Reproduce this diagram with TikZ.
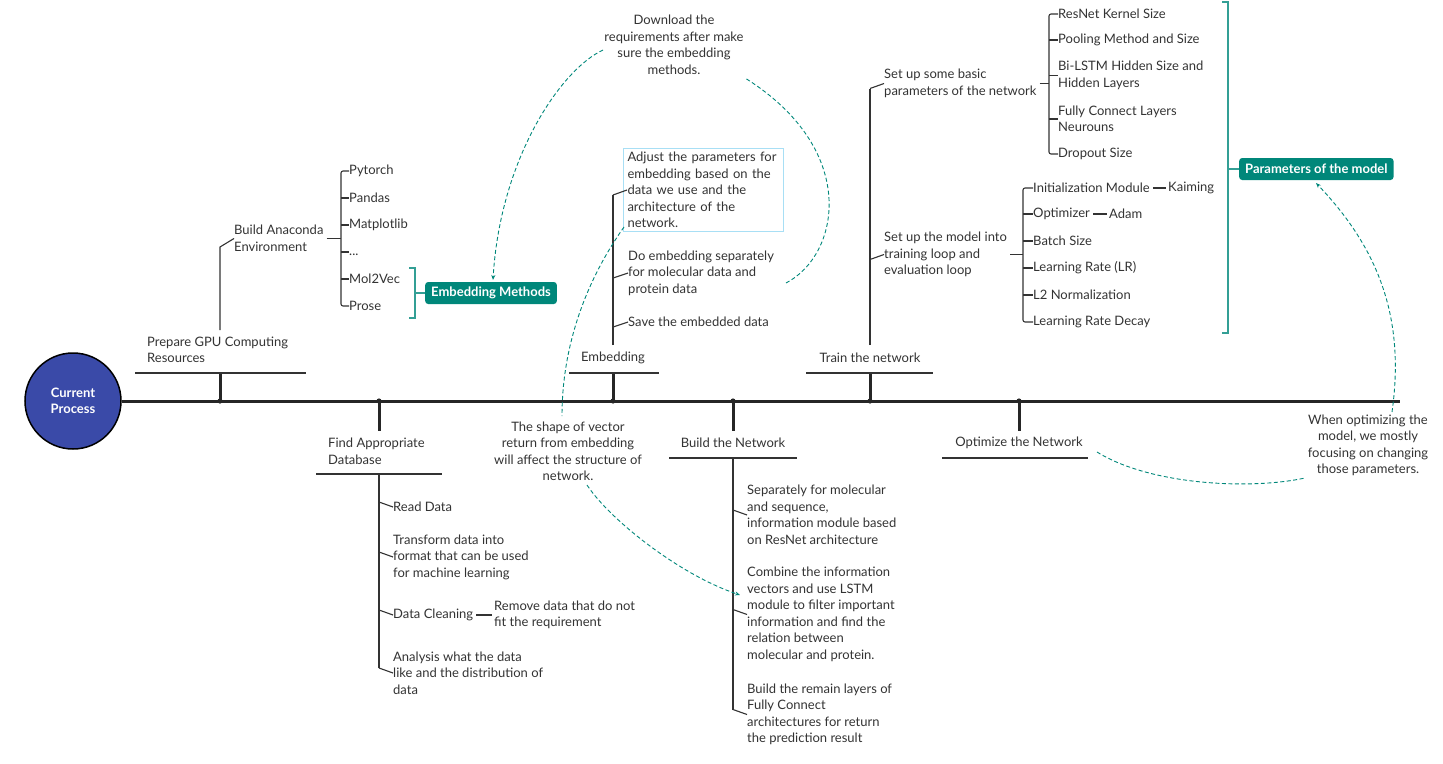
\documentclass[tikz,border=0pt]{standalone}
\usepackage{fontspec}
\setmainfont{Lato}
\usetikzlibrary{arrows.meta}
\definecolor{txtc}{HTML}{333333}
\definecolor{linec}{HTML}{333333}
\definecolor{tealc}{HTML}{00877A}
\definecolor{bluec}{HTML}{3A4AA8}
\definecolor{lblue}{HTML}{A8DFF5}
\tikzset{
  t/.style={font=\fontsize{13}{16.5}\selectfont, text=txtc, align=left, anchor=west, inner sep=0pt},
  tc/.style={t, align=center, anchor=center},
  mainln/.style={draw=black!85, line width=3pt},
  spine/.style={draw=black!85, line width=3pt},
  uline/.style={draw=linec, line width=1.8pt},
  brln/.style={draw=linec, line width=1.1pt},
  tbr/.style={draw=tealc!80, line width=1.4pt},
  note/.style={draw=tealc, line width=0.9pt, dash pattern=on 4pt off 2.5pt},
  arr/.style={-{Stealth[length=5pt,width=4pt]}},
  tagbox/.style={fill=tealc, rounded corners=3pt, text=white, font=\bfseries\fontsize{13}{15}\selectfont, minimum height=22pt, inner xsep=6pt, anchor=west}
}
\begin{document}
\begin{tikzpicture}[x=1pt,y=-1pt]
\useasboundingbox (0,0) rectangle (1443,763);

% central node and main line
\node[circle, minimum size=96pt, fill=bluec, draw=black, line width=1.5pt, text=white,
      font=\bfseries\fontsize{13}{16}\selectfont, align=center, inner sep=0pt] (cur) at (73,401) {Current\\Process};
\coordinate (mend) at (1400,401);
\draw[mainln] (cur.east) -- (mend);

% dots on main line
\coordinate (d1) at (220,401);
\coordinate (d2) at (379,401);
\coordinate (d3) at (613,401);
\coordinate (d4) at (733,401);
\coordinate (d5) at (870,401);
\coordinate (d6) at (1019,401);

% ---------- Prepare GPU Computing Resources ----------
\coordinate (u1) at (220,373);
\draw[spine] (d1) -- (u1);
\draw[uline] (135,373) -- (306,373);
\node[t] (gpu) at (147,350) {Prepare GPU Computing\\Resources};
\node[t] (anac) at (234,238.5) {Build Anaconda\\Environment};
\coordinate (s1top) at (220,330);
\coordinate (s1bend) at (220,247);
\draw[brln] (s1top) -- (s1bend) -- (anac.west);

\coordinate (b1) at (341,0);
\node[t] (pyt) at (349,171) {Pytorch};
\node[t] (pan) at (349,198) {Pandas};
\node[t] (mat) at (349,225) {Matplotlib};
\node[t] (dots) at (349,252) {\strut...};
\node[t] (mol) at (349,279) {Mol2Vec};
\node[t] (prose) at (349,306) {Prose};
\draw[brln, rounded corners=2pt] (pyt.west) -- (pyt.west -| b1) -- (prose.west -| b1) -- (prose.west);
\foreach \n in {pan,mat,dots,mol} \draw[brln] (\n.west -| b1) -- (\n.west);
\draw[brln] ([xshift=3pt]anac.east) -- (anac.east -| b1);

\draw[tbr] (409,268) -- (415,268) -- (415,318) -- (409,318);
\node[tagbox] (emb) at (425,293) {Embedding Methods};
\coordinate (tb1m) at (415,293);
\draw[tbr] (tb1m) -- (emb.west);

% ---------- Find Appropriate Database ----------
\coordinate (u2) at (379,431);
\draw[spine] (d2) -- (u2);
\node[t] (fdb) at (328,451.5) {Find Appropriate\\Database};
\draw[uline] (316,474) -- (442,474);
\coordinate (s2a) at (379,474);
\coordinate (s2b) at (379,668);
\draw[brln] (s2a) -- (s2b);
\node[t] (rd) at (393,507) {Read Data};
\node[t] (tf) at (393,557) {Transform data into\\format that can be used\\for machine learning};
\node[t] (dc) at (393,615) {Data Cleaning};
\node[t] (rm) at (494,615) {Remove data that do not\\fit the requirement};
\node[t] (an) at (393,673) {Analysis what the data\\like and the distribution of\\data};
\foreach \n in {rd,tf,dc,an} \draw[brln] (\n.west) -- ++(-14,-5);
\draw[brln] ([xshift=3pt]dc.east) -- ([xshift=-2pt]rm.west);

% ---------- Embedding ----------
\coordinate (u3) at (613,373);
\draw[spine] (d3) -- (u3);
\draw[uline] (569,373) -- (659,373);
\node[tc] (embt) at (613,358) {Embedding};
\coordinate (s3a) at (613,345);
\coordinate (s3b) at (613,195);
\draw[brln] (s3a) -- (s3b);
\node[t, draw=lblue, line width=1pt, inner sep=4pt, text width=152pt] (adj) at (623,190)
  {Adjust the parameters for\\embedding based on the\\data we use and the\\architecture of the\\network.};
\draw[brln] ([xshift=4pt]adj.west) -- ++(-14,5);
\node[t] (de) at (628,273) {Do embedding separately\\for molecular data and\\protein data};
\node[t] (sv) at (628,322) {Save the embedded data};
\foreach \n in {de,sv} \draw[brln] (\n.west) -- ++(-15,5);

% ---------- Build the Network ----------
\coordinate (u4) at (733,431);
\draw[spine] (d4) -- (u4);
\node[tc] (bn) at (733,443) {Build the Network};
\draw[uline] (669,458) -- (797,458);
\coordinate (s4a) at (733,458);
\coordinate (s4b) at (733,709.5);
\draw[brln] (s4a) -- (s4b);
\node[t] (sp) at (747,515) {Separately for molecular\\and sequence,\\information module based\\on ResNet architecture};
\node[t] (cb) at (747,614.5) {Combine the information\\vectors and use LSTM\\module to filter important\\information and find the\\relation between\\molecular and protein.};
\node[t] (brl) at (747,714.5) {Build the remain layers of\\Fully Connect\\architectures for return\\the prediction result};
\foreach \n in {sp,cb,brl} \draw[brln] (\n.west) -- ++(-14,-5);

% ---------- Train the network ----------
\coordinate (u5) at (870,373);
\draw[spine] (d5) -- (u5);
\draw[uline] (806,373) -- (933,373);
\node[tc] (tn) at (870,358) {Train the network};
\coordinate (s5a) at (870,345);
\coordinate (s5b) at (870,88.5);
\draw[brln] (s5a) -- (s5b);
\node[t] (bp) at (884,83.5) {Set up some basic\\parameters of the network};
\node[t] (sm) at (884,254.5) {Set up the model into\\training loop and\\evaluation loop};
\foreach \n in {bp,sm} \draw[brln] (\n.west) -- ++(-14,5);

\coordinate (b2) at (1049,0);
\node[t] (rk) at (1058,14) {ResNet Kernel Size};
\node[t] (pm) at (1058,40) {Pooling Method and Size};
\node[t] (bl) at (1058,75.5) {Bi-LSTM Hidden Size and\\Hidden Layers};
\node[t] (fc) at (1058,119) {Fully Connect Layers\\Neurouns};
\node[t] (ds) at (1058,154) {Dropout Size};
\draw[brln, rounded corners=2pt] (rk.west) -- (rk.west -| b2) -- (ds.west -| b2) -- (ds.west);
\foreach \n in {pm,bl,fc} \draw[brln] (\n.west -| b2) -- (\n.west);
\draw[brln] ([xshift=3pt]bp.east) -- (bp.east -| b2);

\coordinate (b3) at (1023,0);
\node[t] (im) at (1033,188) {Initialization Module};
\node[t] (kai) at (1168,188) {Kaiming};
\node[t] (op) at (1033,214) {Optimizer};
\node[t] (adam) at (1109,214) {Adam};
\node[t] (bs) at (1033,241) {Batch Size};
\node[t] (lr) at (1033,268) {Learning Rate (LR)};
\node[t] (l2) at (1033,295) {L2 Normalization};
\node[t] (lrd) at (1033,322) {Learning Rate Decay};
\draw[brln, rounded corners=2pt] (im.west) -- (im.west -| b3) -- (lrd.west -| b3) -- (lrd.west);
\foreach \n in {op,bs,lr,l2} \draw[brln] (\n.west -| b3) -- (\n.west);
\draw[brln] ([xshift=3pt]sm.east) -- (sm.east -| b3);
\draw[brln] ([xshift=3pt]im.east) -- ([xshift=-2pt]kai.west);
\draw[brln] ([xshift=3pt]op.east) -- ([xshift=-2pt]adam.west);

\draw[tbr] (1222,2) -- (1228,2) -- (1228,333) -- (1222,333);
\node[tagbox] (pom) at (1239,169) {Parameters of the model};
\coordinate (tb2m) at (1228,169);
\draw[tbr] (tb2m) -- (pom.west);

% ---------- Optimize the Network ----------
\coordinate (u6) at (1019,431);
\draw[spine] (d6) -- (u6);
\node[tc] (on) at (1019,443) {Optimize the Network};
\draw[uline] (942,458) -- (1088,458);

% dots
\foreach \d in {d1,d2,d3,d4,d5,d6} \fill[black!85] (\d) circle[radius=2.6pt];

% ---------- annotations ----------
\node[tc] (n1) at (674,45) {Download the\\requirements after make\\sure the embedding\\methods.};
\node[tc] (n2) at (568,451.5) {The shape of vector\\return from embedding\\will affect the structure of\\network.};
\node[tc] (n3) at (1368,445.5) {When optimizing the\\model, we mostly\\focusing on changing\\those parameters.};

\coordinate (c1a) at (786,283);
\coordinate (c1b) at (745,78);
\coordinate (c1c) at (603,50);
\coordinate (c1d) at (493,280);
\draw[note] (c1a) .. controls (840,255) and (860,150) .. (c1b);
\draw[note, arr] (c1c) .. controls (560,70) and (500,160) .. (c1d);

\coordinate (c2a) at (624,227);
\coordinate (c2b) at (562,416);
\coordinate (c2c) at (587,485);
\coordinate (c2d) at (740,595);
\draw[note] (c2a) .. controls (590,275) and (562,340) .. (c2b);
\draw[note, arr] (c2c) .. controls (610,520) and (680,575) .. (c2d);

\coordinate (c3a) at (1097,452);
\coordinate (c3b) at (1305,478);
\coordinate (c3c) at (1392,412);
\coordinate (c3d) at (1316,183);
\draw[note] (c3a) .. controls (1150,485) and (1250,490) .. (c3b);
\draw[note, arr] (c3c) .. controls (1405,320) and (1380,250) .. (c3d);
\end{tikzpicture}
\end{document}
